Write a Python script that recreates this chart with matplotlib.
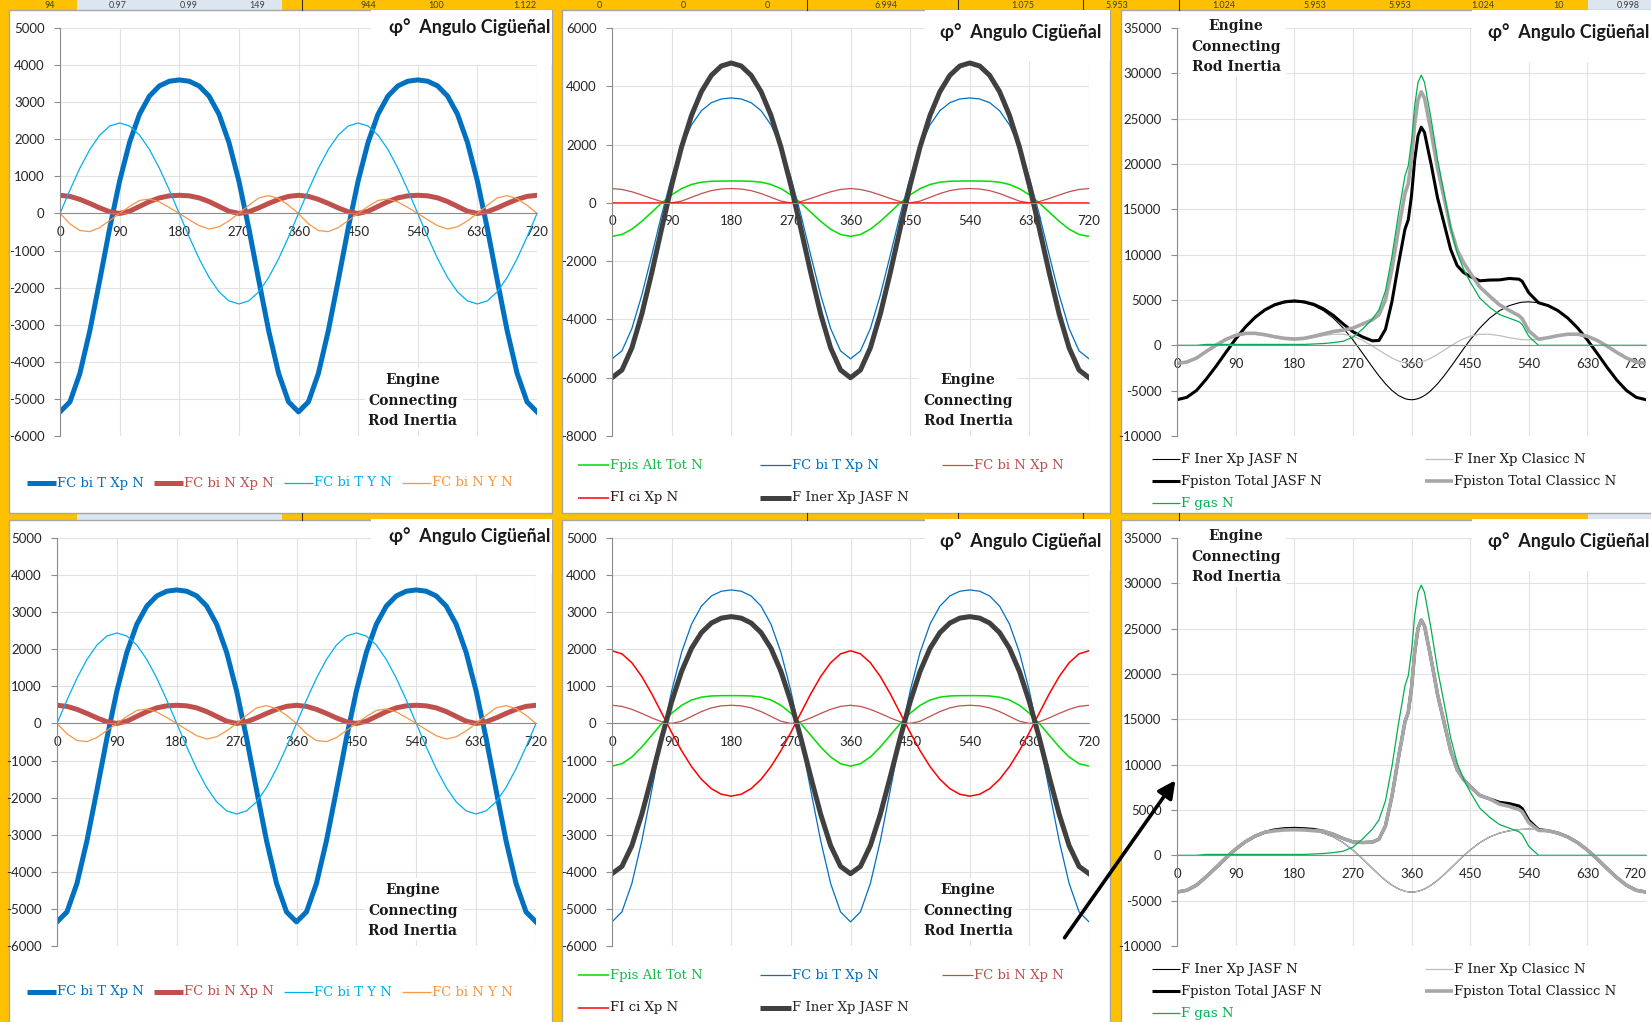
import matplotlib
matplotlib.use("Agg")
import matplotlib.pyplot as plt
import matplotlib.transforms as mtransforms
from matplotlib.patches import Rectangle

plt.rcParams["font.family"] = ["Lato", "DejaVu Sans"]
plt.rcParams["axes.unicode_minus"] = False
plt.rcParams["lines.solid_joinstyle"] = "round"

W, H = 1651, 1022

# ---- data ----
# crank angle (deg), panels FC/Fpis (15 deg steps)
ang = [0, 15, 30, 45, 60, 75, 90, 105, 120, 135, 150, 165, 180,
       195, 210, 225, 240, 255, 270, 285, 300, 315, 330, 345, 360,
       375, 390, 405, 420, 435, 450, 465, 480, 495, 510, 525, 540,
       555, 570, 585, 600, 615, 630, 645, 660, 675, 690, 705, 720]

fc_bi_t_xp = [-5350, -5080, -4313, -3164, -1800, -400, 875, 1916, 2675, 3164, 3438, 3565, 3600,
              3565, 3438, 3164, 2675, 1916, 875, -400, -1800, -3164, -4313, -5080, -5350,
              -5080, -4313, -3164, -1800, -400, 875, 1916, 2675, 3164, 3438, 3565, 3600,
              3565, 3438, 3164, 2675, 1916, 875, -400, -1800, -3164, -4313, -5080, -5350]
fc_bi_n_xp = [490, 460, 380, 270, 150, 45, 0, 60, 190, 320, 420, 475, 490,
              475, 420, 320, 190, 60, 0, 45, 150, 270, 380, 460, 490,
              460, 380, 270, 150, 45, 0, 60, 190, 320, 420, 475, 490,
              475, 420, 320, 190, 60, 0, 45, 150, 270, 380, 460, 490]
fc_bi_t_y = [0, 632, 1220, 1725, 2113, 2357, 2440, 2357, 2113, 1725, 1220, 632, 0,
             -632, -1220, -1725, -2113, -2357, -2440, -2357, -2113, -1725, -1220, -632, 0,
             632, 1220, 1725, 2113, 2357, 2440, 2357, 2113, 1725, 1220, 632, 0,
             -632, -1220, -1725, -2113, -2357, -2440, -2357, -2113, -1725, -1220, -632, 0]
fc_bi_n_y = [0, -280, -460, -490, -380, -190, 0, 190, 350, 390, 310, 160, 0,
             -170, -330, -420, -360, -200, 0, 220, 420, 480, 400, 220, 0,
             -280, -460, -490, -380, -190, 0, 190, 350, 390, 310, 160, 0,
             -170, -330, -420, -360, -200, 0, 220, 420, 480, 400, 220, 0]
fpis_alt_tot = [-1150, -1086, -904, -634, -319, -3, 275, 489, 631, 709, 741, 749, 750,
                749, 741, 709, 631, 489, 275, -3, -319, -634, -904, -1086, -1150,
                -1086, -904, -634, -319, -3, 275, 489, 631, 709, 741, 749, 750,
                749, 741, 709, 631, 489, 275, -3, -319, -634, -904, -1086, -1150]
fi_ci_xp_top = [0, 0, 0, 0, 0, 0, 0, 0, 0, 0, 0, 0, 0,
                0, 0, 0, 0, 0, 0, 0, 0, 0, 0, 0, 0,
                0, 0, 0, 0, 0, 0, 0, 0, 0, 0, 0, 0,
                0, 0, 0, 0, 0, 0, 0, 0, 0, 0, 0, 0]
fi_ci_xp_bot = [1960, 1877, 1637, 1265, 799, 281, -242, -733, -1162, -1507, -1758, -1909, -1960,
                -1909, -1758, -1507, -1162, -733, -242, 281, 799, 1265, 1637, 1877, 1960,
                1877, 1637, 1265, 799, 281, -242, -733, -1162, -1507, -1758, -1909, -1960,
                -1909, -1758, -1507, -1162, -733, -242, 281, 799, 1265, 1637, 1877, 1960]
f_iner_jasf_top = [-6000, -5736, -4976, -3818, -2400, -878, 600, 1917, 3000, 3818, 4376, 4696, 4800,
                   4696, 4376, 3818, 3000, 1917, 600, -878, -2400, -3818, -4976, -5736, -6000,
                   -5736, -4976, -3818, -2400, -878, 600, 1917, 3000, 3818, 4376, 4696, 4800,
                   4696, 4376, 3818, 3000, 1917, 600, -878, -2400, -3818, -4976, -5736, -6000]
f_iner_jasf_bot = [-4050, -3854, -3293, -2450, -1440, -390, 585, 1403, 2025, 2450, 2708, 2840, 2880,
                   2840, 2708, 2450, 2025, 1403, 585, -390, -1440, -2450, -3293, -3854, -4050,
                   -3854, -3293, -2450, -1440, -390, 585, 1403, 2025, 2450, 2708, 2840, 2880,
                   2840, 2708, 2450, 2025, 1403, 585, -390, -1440, -2450, -3293, -3854, -4050]

# crank angle (deg) for the piston force panels, finer around combustion
ang_gas = [0, 15, 30, 45, 60, 75, 90, 105, 120, 135, 150, 165, 180, 195, 210, 225, 240, 255, 270, 285, 300,
           310, 320, 330, 340, 350, 355, 360, 365, 370, 375, 380, 385, 390,
           400, 410, 420, 430, 440, 450, 465, 480, 495, 510, 525, 530, 540,
           555, 570, 585, 600, 615, 630, 645, 660, 675, 690, 705, 720]

f_gas = [0, 0, 0, 100, 100, 100, 100, 100, 100, 100, 100, 100, 100, 100, 150, 200, 300, 450, 900, 1800, 2900,
         3900, 6000, 9800, 14500, 18700, 19800, 22500, 26500, 29000, 29800, 29000, 27000, 25000,
         20500, 16800, 13000, 10200, 8400, 7000, 5200, 4200, 3400, 3000, 2600, 2300, 1000,
         0, 0, 0, 0, 0, 0, 0, 0, 0, 0, 0, 0]
# top row
g_iner_jasf_top = [-6000, -5736, -4976, -3818, -2400, -878, 600, 1917, 3000, 3818, 4376, 4696, 4800,
                   4696, 4376, 3818, 3000, 1917, 600, -878, -2400,
                   -3367, -4241, -4976, -5534, -5882, -5970, -6000, -5970, -5882, -5736, -5534, -5280, -4976,
                   -4241, -3367, -2400, -1387, -374, 600, 1917, 3000, 3818, 4376, 4696, 4754, 4800,
                   4696, 4376, 3818, 3000, 1917, 600, -878, -2400, -3818, -4976, -5736, -6000]
g_iner_clasicc_top = [-2000, -1842, -1401, -769, -75, 550, 1000, 1222, 1225, 1069, 851, 670, 600,
                      670, 851, 1069, 1225, 1222, 1000, 550, -75,
                      -538, -993, -1401, -1723, -1929, -1982, -2000, -1982, -1929, -1842, -1723, -1575, -1401,
                      -993, -538, -75, 357, 723, 1000, 1222, 1225, 1069, 851, 670, 631, 600,
                      670, 851, 1069, 1225, 1222, 1000, 550, -75, -769, -1401, -1842, -2000]
fpiston_jasf_top = [-6000, -5736, -4976, -3718, -2300, -778, 700, 2017, 3100, 3918, 4476, 4796, 4900,
                    4796, 4526, 4018, 3300, 2367, 1500, 922, 500,
                    533, 1759, 4824, 8966, 12818, 13830, 16500, 20530, 23118, 24064, 23466, 21720, 20024,
                    16259, 13433, 10600, 8813, 8026, 7600, 7117, 7200, 7218, 7376, 7296, 7054, 5800,
                    4696, 4376, 3818, 3000, 1917, 600, -878, -2400, -3818, -4976, -5736, -6000]
fpiston_clasicc_top = [-2000, -1842, -1401, -669, 25, 650, 1100, 1322, 1325, 1169, 951, 770, 700,
                       770, 1001, 1269, 1525, 1672, 1900, 2350, 2825,
                       3362, 5007, 8399, 12777, 16771, 17818, 20500, 24518, 27071, 27958, 27277, 25425, 23599,
                       19507, 16262, 12925, 10557, 9123, 8000, 6422, 5425, 4469, 3851, 3270, 2931, 1600,
                       670, 851, 1069, 1225, 1222, 1000, 550, -75, -769, -1401, -1842, -2000]
# bottom row
g_iner_jasf_bot = [-4050, -3854, -3293, -2450, -1440, -390, 585, 1403, 2025, 2450, 2708, 2840, 2880,
                   2840, 2708, 2450, 2025, 1403, 585, -390, -1440,
                   -2126, -2756, -3293, -3704, -3962, -4028, -4050, -4028, -3962, -3854, -3704, -3516, -3293,
                   -2756, -2126, -1440, -737, -52, 585, 1403, 2025, 2450, 2708, 2840, 2863, 2880,
                   2840, 2708, 2450, 2025, 1403, 585, -390, -1440, -2450, -3293, -3854, -4050]
g_iner_clasicc_bot = g_iner_jasf_bot
fpiston_jasf_bot = [-4050, -3854, -3293, -2350, -1340, -290, 685, 1503, 2125, 2550, 2808, 2940, 2980,
                    2940, 2858, 2650, 2325, 1853, 1485, 1410, 1460,
                    1774, 3244, 6507, 10796, 14738, 15772, 18450, 22472, 25038, 25946, 25296, 23484, 21707,
                    17744, 14674, 11560, 9463, 8348, 7585, 6603, 6225, 5850, 5708, 5440, 5163, 3880,
                    2840, 2708, 2450, 2025, 1403, 585, -390, -1440, -2450, -3293, -3854, -4050]
fpiston_clasicc_bot = [-4050, -3854, -3293, -2350, -1340, -290, 685, 1503, 2125, 2550, 2700, 2800, 2830,
                       2800, 2720, 2650, 2325, 1853, 1485, 1410, 1460,
                       1774, 3244, 6507, 10796, 14738, 15772, 18450, 22472, 25038, 25946, 25296, 23484, 21707,
                       17744, 14674, 11560, 9463, 8348, 7585, 6603, 6225, 5650, 5400, 5050, 4800, 3600,
                       2750, 2708, 2450, 2025, 1403, 585, -390, -1440, -2450, -3293, -3854, -4050]

# spreadsheet cells peeking out above the charts
sheet_vals = ["94", "0.97", "0.99", "149", "944", "100", "1.122", "0", "0", "0", "6.994",
              "1.075", "5.953", "1.024", "5.953", "5.953", "1.024", "10", "0.998"]
sheet_x = [50, 118, 189, 257, 368, 436, 525, 599, 683, 767, 886,
           1023, 1117, 1224, 1315, 1400, 1483, 1559, 1628]

YELLOW = "#FFC000"
AXIS = "#8C8C8C"
GRID = "#E2E2E2"
TICK = "#262626"
BLUE = "#0070C0"
BROWN = "#C0504D"
LBLUE = "#00B0F0"
ORANGE = "#F79646"
LGREEN = "#00DD00"
RED = "#FF0000"
DARK = "#404040"
GAS = "#00B050"

fig = plt.figure(figsize=(W / 100, H / 100), dpi=100, facecolor=YELLOW)
px = mtransforms.Affine2D().scale(1 / W, -1 / H).translate(0, 1) + fig.transFigure

# background: sheet strips and white chart boxes
bg = fig.add_axes([0, 0, 1, 1], zorder=0)
bg.set_xlim(0, W)
bg.set_ylim(H, 0)
bg.axis("off")
for x0, x1 in [(77, 282), (1588, 1651)]:
    bg.add_patch(Rectangle((x0, 0), x1 - x0, 10, facecolor="#DCE6F1", edgecolor="none"))
    bg.add_patch(Rectangle((x0, 513), x1 - x0, 7, facecolor="#DCE6F1", edgecolor="none"))
for xs in [302, 807, 958, 1083, 1179]:
    bg.plot([xs, xs], [0, 10], color="#333333", lw=0.8)
    bg.plot([xs, xs], [513, 520], color="#333333", lw=0.8)
for x0, y0, x1, y1 in [(9, 10, 552, 513), (562, 10, 1110, 513), (1121, 10, 1680, 513),
                       (9, 520, 552, 1040), (562, 520, 1110, 1040), (1121, 520, 1680, 1040)]:
    bg.add_patch(Rectangle((x0, y0), x1 - x0, y1 - y0, facecolor="white",
                           edgecolor="#A6A6A6", lw=1.0))
for x, s in zip(sheet_x, sheet_vals):
    bg.text(x, 5, s, ha="center", va="center", fontsize=6.5, color="#404040")


def chart(left, top_, right, bottom, ymin, ymax, ystep):
    ax = fig.add_axes([left / W, 1 - bottom / H, (right - left) / W, (bottom - top_) / H], zorder=1)
    ax.patch.set_alpha(0)
    ax.set_xlim(0, 720)
    ax.set_ylim(ymin, ymax)
    ax.set_xticks(range(0, 721, 90))
    ax.set_yticks(range(ymin, ymax + 1, ystep))
    ax.set_axisbelow(True)
    ax.grid(True, color=GRID, lw=0.8)
    ax.spines["top"].set_visible(False)
    ax.spines["right"].set_visible(False)
    ax.spines["bottom"].set_position(("data", 0))
    ax.spines["left"].set_color(AXIS)
    ax.spines["bottom"].set_color(AXIS)
    ax.tick_params(axis="x", length=0, pad=9, labelsize=9.5, labelcolor=TICK)
    ax.tick_params(axis="y", direction="out", length=4, color=AXIS, pad=7,
                   labelsize=9.5, labelcolor=TICK)
    return ax


def white_box(ax, x0, y0, x1, y1):
    ax.add_patch(Rectangle((x0, y0), x1 - x0, y1 - y0, transform=px, facecolor="white",
                           edgecolor="none", zorder=1, clip_on=False))


ov = fig.add_axes([0, 0, 1, 1], zorder=3)
ov.set_xlim(0, W)
ov.set_ylim(H, 0)
ov.axis("off")
ov.patch.set_alpha(0)


def legend_entry(x, y, color, lw, label, tcolor, hl=29):
    ov.plot([x, x + hl], [y, y], color=color, lw=lw, solid_capstyle="butt")
    ov.text(x + hl + 1, y, label, ha="left", va="center", fontsize=9.5,
            family="DejaVu Serif", color=tcolor)


def engine(x, y):
    for i, s in enumerate(["Engine", "Connecting", "Rod Inertia"]):
        ov.text(x, y + 20.5 * i, s, ha="center", va="center", fontsize=10,
                family="DejaVu Serif", fontweight="bold", color="#1A1A1A")


def title(x, y, ha):
    ov.text(x, y, "φ°  Angulo Cigüeñal", ha=ha, va="center", fontsize=13,
            fontweight="bold", color="#1A1A1A", family=["Lato", "DejaVu Sans"])


# ---- column 1: FC bi (top and bottom identical) ----
for (l, t, r, b, ly, ty) in [(60, 28, 537, 436, 483, 27), (57, 538, 536, 946, 992, 536)]:
    ax = chart(l, t, r, b, -6000, 5000, 1000)
    white_box(ax, 371, ty - 17, 552, ty + 38)
    white_box(ax, 365, t + 340, 463, t + 402)
    ax.plot(ang, fc_bi_t_xp, color=BLUE, lw=3.6)
    ax.plot(ang, fc_bi_n_xp, color=BROWN, lw=3.6)
    ax.plot(ang, fc_bi_t_y, color=LBLUE, lw=0.9)
    ax.plot(ang, fc_bi_n_y, color=ORANGE, lw=0.9)
    title(550, ty, "right")
    engine(413, t + 352)
    legend_entry(27, ly, BLUE, 3.6, "FC bi T Xp N", BLUE)
    legend_entry(154, ly, BROWN, 3.6, "FC bi N Xp N", BROWN)
    legend_entry(284, ly, LBLUE, 0.9, "FC bi T Y N", LBLUE)
    legend_entry(402, ly, ORANGE, 0.9, "FC bi N Y N", ORANGE)

# ---- column 2: piston / inertia forces ----
for (t, b, ymin, ymax, ystep, fici, finer, ly, ty) in [
        (28, 436, -8000, 6000, 2000, fi_ci_xp_top, f_iner_jasf_top, 465, 32),
        (538, 946, -6000, 5000, 1000, fi_ci_xp_bot, f_iner_jasf_bot, 975, 541)]:
    ax = chart(612, t, 1089, b, ymin, ymax, ystep)
    white_box(ax, 925, ty - 22, 1110, ty + 29)
    white_box(ax, 918, t + 340, 1018, t + 402)
    ax.plot(ang, fpis_alt_tot, color=LGREEN, lw=1.1)
    ax.plot(ang, fc_bi_t_xp, color=BLUE, lw=0.9)
    ax.plot(ang, fc_bi_n_xp, color=BROWN, lw=0.9)
    ax.plot(ang, fici, color=RED, lw=1.1)
    ax.plot(ang, finer, color=DARK, lw=3.6)
    title(1101, ty, "right")
    engine(968, t + 352)
    legend_entry(578, ly, LGREEN, 1.1, "Fpis Alt Tot N", "#1FB84A", hl=31)
    legend_entry(760, ly, BLUE, 0.9, "FC bi T Xp N", BLUE, hl=31)
    legend_entry(942, ly, BROWN, 0.9, "FC bi N Xp N", BROWN, hl=31)
    legend_entry(578, ly + 33, RED, 1.1, "FI ci Xp N", "#2B1A1A", hl=31)
    legend_entry(760, ly + 33, DARK, 3.6, "F Iner Xp JASF N", "#262626", hl=31)

# ---- column 3: piston total force with gas ----
for (t, b, iner, clas, ptot, pclas, ly, ty) in [
        (28, 436, g_iner_jasf_top, g_iner_clasicc_top, fpiston_jasf_top, fpiston_clasicc_top, 459, 32),
        (538, 946, g_iner_jasf_bot, g_iner_clasicc_bot, fpiston_jasf_bot, fpiston_clasicc_bot, 969, 541)]:
    ax = chart(1177, t, 1646, b, -10000, 35000, 5000)
    # last angle label sits at the picture edge; keep it inside
    ax.get_xticklabels()[-1].set_horizontalalignment("right")
    white_box(ax, 1472, ty - 22, 1651, ty + 30)
    white_box(ax, 1181, t - 14, 1286, t + 49)
    ax.plot(ang_gas, iner, color="black", lw=0.8)
    ax.plot(ang_gas, clas, color="#BFBFBF", lw=0.9)
    ax.plot(ang_gas, ptot, color="black", lw=2.2)
    ax.plot(ang_gas, pclas, color="#A6A6A6", lw=2.6)
    ax.plot(ang_gas, f_gas, color=GAS, lw=0.9)
    title(1488, ty, "left")
    engine(1236, t - 2)
    legend_entry(1152, ly, "black", 0.8, "F Iner Xp JASF N", "#1A1A1A", hl=28)
    legend_entry(1425, ly, "#BFBFBF", 0.9, "F Iner Xp Clasicc N", "#1A1A1A", hl=28)
    legend_entry(1152, ly + 22, "black", 2.2, "Fpiston Total JASF N", "#1A1A1A", hl=28)
    legend_entry(1425, ly + 22, "#A6A6A6", 2.6, "Fpiston Total Classicc N", "#1A1A1A", hl=28)
    legend_entry(1152, ly + 44, GAS, 0.9, "F gas N", GAS, hl=28)

# pointer arrow drawn on the sheet
ov.annotate("", xy=(1177, 778), xytext=(1063, 940),
            arrowprops=dict(arrowstyle="-|>", color="black", lw=2.6, mutation_scale=26))

fig.savefig("out.png", dpi=100, facecolor=fig.get_facecolor())
